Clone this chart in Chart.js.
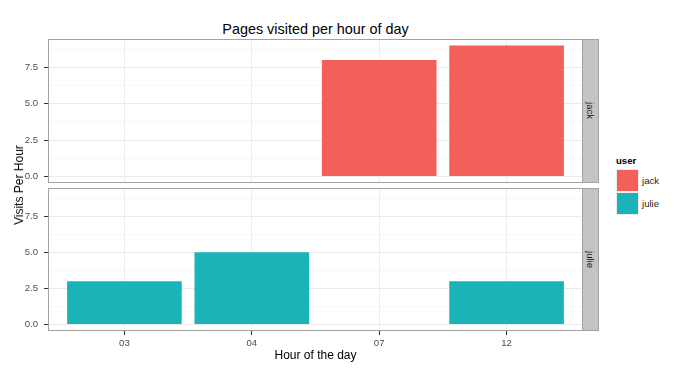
<!DOCTYPE html>
<html>
<head>
<meta charset="utf-8">
<script src="https://cdn.jsdelivr.net/npm/chart.js@4"></script>
<style>
  body { margin: 0; background: #fff; font-family: "Liberation Sans", Arial, sans-serif; }
  #wrap { position: relative; width: 695px; height: 374px; overflow: hidden; }
  canvas { position: absolute; left: 0; }
  .txt { position: absolute; white-space: nowrap; line-height: 1; color: #000; }
  .strip {
    position: absolute; left: 582px; width: 17px; box-sizing: border-box;
    background: #c4c4c4; border: 1px solid #a3a3a3;
    display: flex; align-items: center; justify-content: center;
  }
  .strip span { writing-mode: vertical-rl; font-size: 9.6px; color: #1a1a1a; line-height: 1; }
  .key { position: absolute; left: 616px; width: 23px; height: 23px; box-sizing: border-box; border: 1px solid #ececec; }
  .keyLabel { position: absolute; left: 642px; height: 23px; line-height: 23px; font-size: 9.6px; color: #1a1a1a; }
</style>
</head>
<body>
<div id="wrap">
  <div class="txt" style="left:315.5px; top:22px; font-size:14.4px; transform:translateX(-50%);">Pages visited per hour of day</div>

  <canvas id="topChart" width="583" height="168" style="top:27px;"></canvas>
  <canvas id="bottomChart" width="583" height="185" style="top:176px;"></canvas>

  <div class="strip" style="top:39px; height:144px;"><span id="strip0"></span></div>
  <div class="strip" style="top:188px; height:143px;"><span id="strip1"></span></div>

  <div class="txt" style="left:19px; top:185px; font-size:12px; transform:translate(-50%,-50%) rotate(-90deg);">Visits Per Hour</div>
  <div class="txt" style="left:315.5px; top:349px; font-size:12px; transform:translateX(-50%);">Hour of the day</div>

  <div class="txt" style="left:616px; top:156px; font-size:9.6px; font-weight:bold;">user</div>
  <div id="legend"></div>
</div>

<script>
// data
const hours = ["03", "04", "07", "12"];
const users = ["jack", "julie"];
const jackVisits = [null, null, 8, 9];
const julieVisits = [3, 5, null, 3];
const userColors = ["#f35f5b", "#1ab4b8"];
const yMajorStep = 2.5;

Chart.defaults.font.family = "'Liberation Sans', Arial, sans-serif";
Chart.defaults.font.size = 9.6;

// grey frame round each panel
const panelBox = {
  id: "panelBox",
  afterDatasetsDraw(chart) {
    const a = chart.chartArea;
    const ctx = chart.ctx;
    ctx.save();
    ctx.strokeStyle = "#a3a3a3";
    ctx.lineWidth = 1;
    ctx.strokeRect(a.left + 0.5, a.top + 0.5, a.right - a.left - 1, a.bottom - a.top - 1);
    ctx.restore();
  }
};

const isMajor = v => Math.abs(v / yMajorStep - Math.round(v / yMajorStep)) < 1e-6;

function makePanel(canvasId, values, color, showX) {
  const ctx = document.getElementById(canvasId).getContext("2d");
  return new Chart(ctx, {
    type: "bar",
    data: {
      datasets: [{
        data: values.map((v, i) => ({ x: i + 1, y: v })),
        backgroundColor: color,
        borderWidth: 0,
        categoryPercentage: 1,
        barPercentage: 0.9
      }]
    },
    options: {
      responsive: false,
      animation: false,
      layout: { padding: { top: 12, bottom: showX ? 0 : 12, left: 0, right: 0 } },
      plugins: { legend: { display: false }, tooltip: { enabled: false } },
      scales: {
        x: {
          type: "linear",
          min: 0.4,
          max: 4.6,
          offset: false,
          border: { display: false },
          grid: {
            offset: false,
            color: "#ebebeb",
            drawTicks: showX,
            tickLength: 4,
            tickColor: "#333333"
          },
          ticks: {
            display: showX,
            stepSize: 1,
            includeBounds: false,
            autoSkip: false,
            maxRotation: 0,
            padding: 3,
            color: "#4d4d4d",
            callback: v => hours[Math.round(v) - 1]
          },
          afterFit: s => { s.height = showX ? 30 : 0; }
        },
        y: {
          min: -0.45,
          max: 9.45,
          border: { display: false },
          grid: {
            color: c => isMajor(c.tick.value) ? "#ebebeb" : "#f7f7f7",
            tickLength: 4,
            tickColor: c => isMajor(c.tick.value) ? "#333333" : "rgba(0,0,0,0)"
          },
          ticks: {
            stepSize: yMajorStep / 2,
            includeBounds: false,
            autoSkip: false,
            padding: 6,
            color: "#4d4d4d",
            callback: v => isMajor(v) ? v.toFixed(1) : ""
          },
          afterFit: s => { s.width = 48; }
        }
      }
    },
    plugins: [panelBox]
  });
}

makePanel("topChart", jackVisits, userColors[0], false);
makePanel("bottomChart", julieVisits, userColors[1], true);

// strip labels and legend
users.forEach((u, i) => {
  document.getElementById("strip" + i).textContent = u;
  const legend = document.getElementById("legend");
  const top = 169 + i * 23;
  legend.innerHTML += `<div class="key" style="top:${top}px; background:${userColors[i]};"></div>` +
    `<div class="keyLabel" style="top:${top}px;">${u}</div>`;
});
</script>
</body>
</html>
